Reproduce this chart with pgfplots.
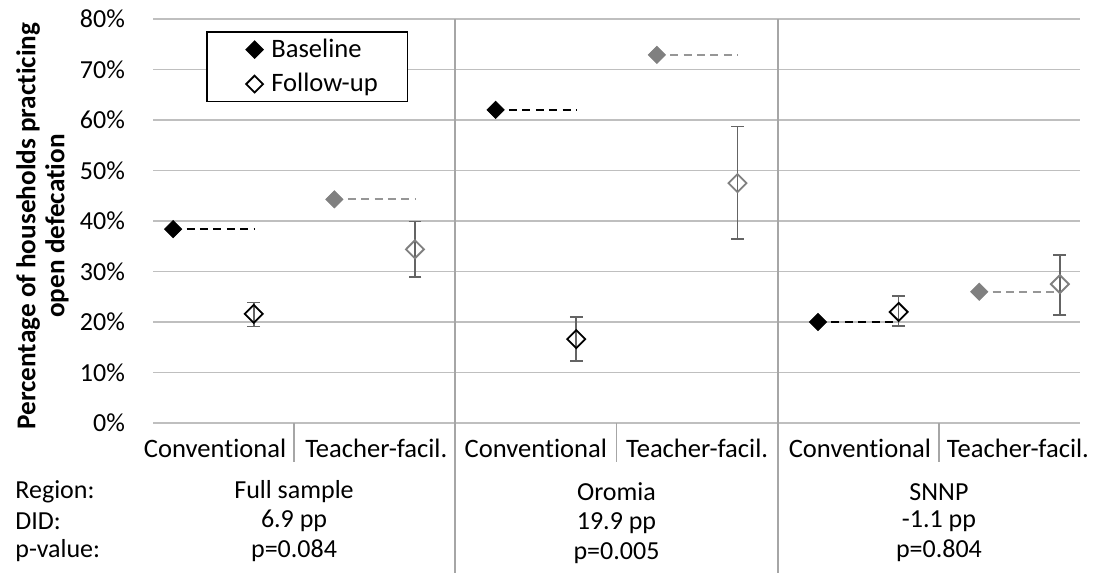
\documentclass[border=0pt]{standalone}
\usepackage{pgfplots}
\pgfplotsset{compat=1.18}
\usepackage{fontspec}
\setmainfont{Carlito}[Ligatures=NoCommon]
\definecolor{gridc}{RGB}{191,191,191}
\definecolor{sepc}{RGB}{166,166,166}
\definecolor{tgrey}{RGB}{128,128,128}
\definecolor{ebar}{RGB}{100,100,100}
\definecolor{tdash}{RGB}{150,150,150}
\begin{document}
\begin{tikzpicture}[font=\fontsize{13}{15}\selectfont]
\path[use as bounding box] (0,0) rectangle (548pt,286.5pt);
\begin{axis}[
  at={(76.5pt,75pt)}, anchor=south west,
  scale only axis, width=463.5pt, height=202pt,
  xmin=0.75, xmax=12.25, ymin=0, ymax=80,
  axis line style={draw=none},
  ytick={0,10,...,80},
  yticklabel={\pgfmathprintnumber{\tick}\%},
  /pgf/number format/assume math mode=true,
  yticklabel style={font=\fontsize{13}{15}\selectfont, xshift=-10.5pt},
  ymajorgrids, grid style={gridc, line width=0.7pt},
  major tick length=0pt,
  xtick={1.52,3.52,5.5,7.5,9.52,11.48},
  xticklabels={Conventional,Teacher-facil.,Conventional,Teacher-facil.,Conventional,Teacher-facil.},
  xticklabel style={anchor=center, yshift=-12.5pt, font=\fontsize{13.3}{15}\selectfont},
  clip=false,
  legend style={at={(axis cs:1.41,77.6)}, anchor=north west, draw=black, line width=0.7pt,
    inner xsep=2pt, inner ysep=1.5pt, row sep=2.5pt, font=\fontsize{13.3}{15}\selectfont,
    nodes={inner xsep=0pt}},
  legend cell align=left,
  legend image code/.code={\path (-21.5pt,0pt) (8pt,0pt); \draw[#1] plot coordinates {(0pt,0pt)};},
  error bars/error bar style={ebar, line width=0.8pt, solid},
  error bars/error mark options={rotate=90, mark size=3.2pt, ebar, line width=0.8pt},
]
\addlegendimage{only marks, mark=diamond*, black, mark size=4.2pt, mark options={xscale=1.333}}
\addlegendentry{\makebox[66pt][l]{Baseline}}
\addlegendimage{only marks, mark=diamond, black, mark size=4.2pt, mark options={xscale=1.333, line width=0.9pt}}
\addlegendentry{\makebox[66pt][l]{Follow-up}}
% dashed connectors (baseline level)
\addplot[black, line width=0.8pt, dash pattern=on 4pt off 2.7pt, no marks, forget plot] coordinates {(1,38.4) (2,38.4)};
\addplot[black, line width=0.8pt, dash pattern=on 4pt off 2.7pt, no marks, forget plot] coordinates {(5,62.0) (6,62.0)};
\addplot[black, line width=0.8pt, dash pattern=on 4pt off 2.7pt, no marks, forget plot] coordinates {(9,20.0) (10,20.0)};
\addplot[tdash, line width=0.8pt, dash pattern=on 4pt off 2.7pt, no marks, forget plot] coordinates {(3,44.3) (4,44.3)};
\addplot[tdash, line width=0.8pt, dash pattern=on 4pt off 2.7pt, no marks, forget plot] coordinates {(7,72.9) (8,72.9)};
\addplot[tdash, line width=0.8pt, dash pattern=on 4pt off 2.7pt, no marks, forget plot] coordinates {(11,26.0) (12,26.0)};
% follow-up with error bars
\addplot[only marks, mark=diamond, black, mark size=4.5pt, mark options={xscale=1.333, line width=0.9pt, solid}, forget plot,
  error bars/.cd, y dir=both, y explicit]
  coordinates {(2,21.6) += (0,2.3) -= (0,2.5)
               (6,16.6) += (0,4.4) -= (0,4.3)
               (10,22.0) += (0,3.2) -= (0,2.8)};
\addplot[only marks, mark=diamond, tgrey, mark size=4.5pt, mark options={xscale=1.333, line width=0.9pt, solid}, forget plot,
  error bars/.cd, y dir=both, y explicit]
  coordinates {(4,34.4) += (0,5.5) -= (0,5.5)
               (8,47.5) += (0,11.2) -= (0,11.1)
               (12,27.5) += (0,5.8) -= (0,6.1)};
% baseline markers
\addplot[only marks, mark=diamond*, black, mark size=4.3pt, mark options={xscale=1.333}, forget plot]
  coordinates {(1,38.4) (5,62.0) (9,20.0)};
\addplot[only marks, mark=diamond*, tgrey, mark size=4.3pt, mark options={xscale=1.333}, forget plot]
  coordinates {(3,44.3) (7,72.9) (11,26.0)};
% separators
\draw[sepc, line width=0.8pt] (axis cs:4.5,80) -- ([yshift=-75pt]axis cs:4.5,0);
\draw[sepc, line width=0.8pt] (axis cs:8.5,80) -- ([yshift=-75pt]axis cs:8.5,0);
\draw[sepc, line width=0.8pt] (axis cs:2.5,0) -- ([yshift=-19.5pt]axis cs:2.5,0);
\draw[sepc, line width=0.8pt] (axis cs:6.5,0) -- ([yshift=-19.5pt]axis cs:6.5,0);
\draw[sepc, line width=0.8pt] (axis cs:10.5,0) -- ([yshift=-19.5pt]axis cs:10.5,0);
% bottom table
\node[anchor=west, inner xsep=0pt] at ([xshift=-69pt, yshift=-34.5pt]axis cs:0.75,0) {Region:};
\node[anchor=west, inner xsep=0pt] at ([xshift=-69pt, yshift=-49pt]axis cs:0.75,0) {DID:};
\node[anchor=west, inner xsep=0pt] at ([xshift=-69pt, yshift=-64pt]axis cs:0.75,0) {p-value:};
\node at ([yshift=-34.5pt]axis cs:2.5,0) {Full sample};
\node at ([yshift=-49pt]axis cs:2.5,0) {6.9 pp};
\node at ([yshift=-64pt]axis cs:2.5,0) {p=0.084};
\node at ([yshift=-34.5pt]axis cs:6.5,0) {Oromia};
\node at ([yshift=-50pt]axis cs:6.5,0) {19.9 pp};
\node at ([yshift=-65pt]axis cs:6.5,0) {p=0.005};
\node at ([yshift=-34.5pt]axis cs:10.5,0) {SNNP};
\node at ([yshift=-49pt]axis cs:10.5,0) {-1.1 pp};
\node at ([yshift=-64pt]axis cs:10.5,0) {p=0.804};
\end{axis}
\node[rotate=90, align=center, font=\bfseries\fontsize{13.6}{14.5}\selectfont] at (21.25pt,173.5pt)
  {Percentage of households practicing\\open defecation};
\end{tikzpicture}
\end{document}
